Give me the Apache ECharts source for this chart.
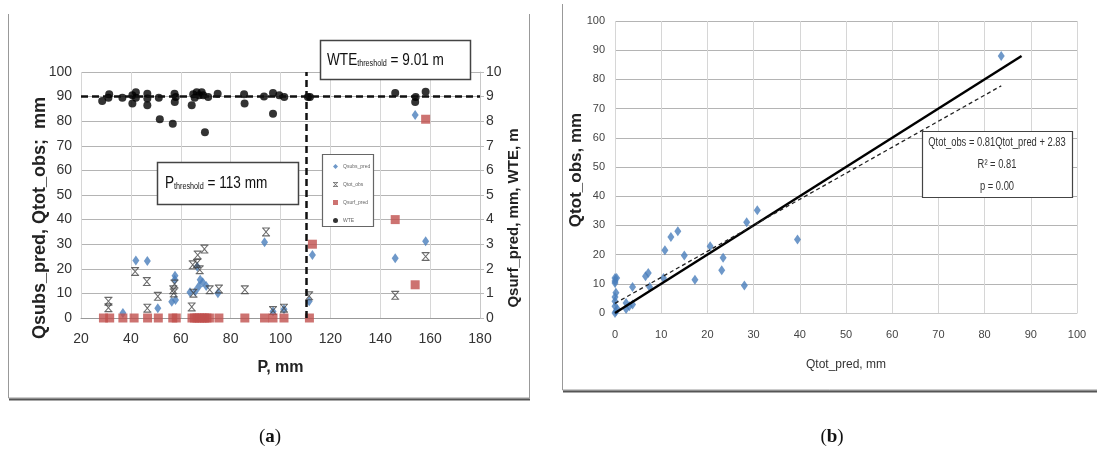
<!DOCTYPE html>
<html>
<head>
<meta charset="utf-8">
<script src="https://cdn.jsdelivr.net/npm/echarts@6/dist/echarts.min.js"></script>
<style>
  html, body { margin: 0; padding: 0; background: #fff; }
  #chart { width: 1097px; height: 452px; }
</style>
</head>
<body>
<div id="chart"></div>
<script>
// ---- panel (a): P, mm vs runoff components + WTE ----
const pTicks = [20, 180, 20]            // min, max, step
const leftTicks = [0, 100, 10]
const rightTicks = [0, 10, 1]

// [P, Qsubs_pred mm]
const qsubsPred = [
  [36.8, 2], [42, 23.4], [46.6, 23.2], [50.8, 4], [56.4, 6.6], [57.9, 7.3], [57.6, 15.5], [57.7, 17.2],
  [63.7, 10.5], [65.8, 10.8], [66.6, 20.8], [67.2, 12.8], [67.8, 15.5], [68.8, 14.5], [70.2, 13],
  [74.9, 10.1], [93.6, 30.8], [97, 2.6], [101.4, 3.6], [111.5, 6.8], [112.8, 25.6], [146, 24.3],
  [154, 82.5], [158.2, 31.2]
]
// [P, Qtot_obs mm]
const qtotObsA = [
  [31, 6.8], [31, 4.2], [41.7, 18.9], [46.4, 14.8], [46.6, 4], [50.8, 8.8], [57, 11.5], [57.5, 13.8],
  [57.2, 10.2], [64.4, 4.5], [64.8, 21.6], [65.1, 10.1], [66.5, 22.2], [66.8, 25.6], [67.6, 19.6],
  [69.5, 28], [71.6, 11.5], [75.3, 11.8], [85.7, 11.5], [94.2, 35], [97, 3], [101.4, 4], [111.5, 9],
  [146, 9.2], [158.2, 25]
]
// [P, Qsurf_pred] on the right axis
const qsurfPred = [
  [29, 0], [31.5, 0], [36.8, 0], [41.3, 0], [46.7, 0], [51, 0], [56.8, 0], [58.2, 0], [64.5, 0],
  [65.5, 0], [66.5, 0], [67.5, 0], [68.5, 0], [69.5, 0], [70.5, 0], [71.5, 0], [75.3, 0], [85.7, 0],
  [93.6, 0], [97, 0], [101.4, 0], [111.6, 0], [112.8, 3.0], [146, 4.0], [154, 1.35], [158.2, 8.08]
]
// [P, WTE m] on the right axis
const wte = [
  [28.5, 8.82], [31.3, 9.1], [31, 8.95], [36.6, 8.95], [40.6, 9.05], [40.6, 8.72], [42, 9.18], [42, 8.95],
  [46.6, 9.12], [46.6, 8.92], [46.6, 8.65], [51.2, 8.95], [51.6, 8.08], [56.8, 7.9], [57.5, 9.12],
  [58, 8.98], [57.6, 8.78], [64.4, 8.65], [65, 9.1], [65.6, 8.95], [66.4, 9.18], [67.4, 9.05],
  [68.4, 9.18], [69, 9.05], [69.7, 7.55], [71, 8.98], [74.8, 9.12], [85.4, 9.1], [85.6, 8.72],
  [93.4, 9.0], [97, 9.15], [97, 8.3], [99.5, 9.05], [101.5, 8.98], [111, 8.98], [111.8, 8.98],
  [146, 9.15], [154, 8.78], [154.2, 8.98], [158.2, 9.2]
]
const wteThreshold = 9.01
const pThresholdLine = 110.3

// ---- panel (b): Qtot_pred vs Qtot_obs ----
const bTicks = [0, 100, 10]
const qtotPoints = [
  [0, 12], [0.35, 12], [0, 11], [0, 10.3], [0.2, 6.9], [0, 5.5], [0, 4], [0, 2.3], [0.2, 0.6], [0, 0],
  [0.5, 1.4], [2.4, 3.4], [2.4, 1.4], [3.1, 2.3], [3.8, 2.9], [3.8, 8.9], [6.6, 12.6], [7.2, 13.7],
  [7.5, 8.9], [10.5, 12], [10.8, 21.5], [12.1, 26], [13.6, 28], [15, 19.7], [17.3, 11.4], [20.6, 22.9],
  [23.1, 14.6], [23.4, 18.9], [28, 9.4], [28.5, 31.1], [30.8, 35.2], [39.5, 25.2], [83.6, 88]
]
const oneToOne = [[0, 0], [88, 88]]
const fitLine = [[0, 3.3], [83.6, 77.8]]

const SANS = "'Liberation Sans', Arial, sans-serif"
const starMark = 'path://M0,0H10V1.3H0Z M0,8.7H10V10H0Z M0.6,1.3H2.2L5,4.1L7.8,1.3H9.4L5.8,5L9.4,8.7H7.8L5,5.9L2.2,8.7H0.6L4.2,5Z'

const gridH = { show: true, lineStyle: { color: '#b4b4b4', width: 1 } }
const gridV = { show: true, lineStyle: { color: '#d6d6d6', width: 1 } }
const labA = { fontFamily: SANS, fontSize: 14, color: '#333' }
const labB = { fontFamily: SANS, fontSize: 11, color: '#444' }

// boxed note text, squeezed horizontally like the original narrow font
function subText(x, y, main, sub, rest) {
  return {
    type: 'text', z: 101, x: x, y: y, scaleX: 0.8,
    style: {
      text: '{m|' + main + '}{s|' + sub + '}{m|' + rest + '}', verticalAlign: 'middle',
      rich: {
        m: { fontFamily: SANS, fontSize: 17, fill: '#111', verticalAlign: 'bottom' },
        s: { fontFamily: SANS, fontSize: 9, fill: '#111', verticalAlign: 'bottom' }
      }
    }
  }
}
function boxLine(y, text) {
  return {
    type: 'text', z: 101, x: 997, y: y, scaleX: 0.78,
    style: { text: text, font: '12px ' + SANS, fill: '#333', align: 'center', verticalAlign: 'middle' }
  }
}
function caption(x, letter) {
  return {
    type: 'text', x: x, y: 437,
    style: {
      text: '({b|' + letter + '})', align: 'center', verticalAlign: 'middle',
      fontFamily: "'Liberation Serif', serif", fontSize: 19, fill: '#111',
      rich: { b: { fontFamily: "'Liberation Serif', serif", fontSize: 19, fontWeight: 'bold', fill: '#111' } }
    }
  }
}

const chart = echarts.init(document.getElementById('chart'))

chart.setOption({
  animation: false,
  grid: [
    { left: 81, top: 72, width: 399, height: 246 },
    { left: 615, top: 21, width: 462, height: 292 }
  ],
  legend: {
    data: ['Qsubs_pred', 'Qtot_obs', 'Qsurf_pred', 'WTE'],
    orient: 'vertical',
    left: 328,
    top: 159,
    itemGap: 13,
    itemWidth: 5,
    itemHeight: 5,
    selectedMode: false,
    z: 110,
    textStyle: { fontSize: 5, color: '#666', fontFamily: SANS }
  },
  xAxis: [
    {
      type: 'value', gridIndex: 0, min: pTicks[0], max: pTicks[1], interval: pTicks[2],
      axisLine: { lineStyle: { color: '#999' } },
      axisTick: { show: false },
      axisLabel: { ...labA, margin: 14 },
      splitLine: gridV,
      name: 'P, mm', nameLocation: 'middle', nameGap: 42,
      nameTextStyle: { fontFamily: SANS, fontSize: 16, fontWeight: 'bold', color: '#222' }
    },
    {
      type: 'value', gridIndex: 1, min: bTicks[0], max: bTicks[1], interval: bTicks[2],
      axisLine: { lineStyle: { color: '#c8c8c8' } },
      axisTick: { show: false },
      axisLabel: { ...labB, margin: 16 },
      splitLine: gridV,
      name: 'Qtot_pred, mm', nameLocation: 'middle', nameGap: 46,
      nameTextStyle: { fontFamily: SANS, fontSize: 12, color: '#333' }
    }
  ],
  yAxis: [
    {
      type: 'value', gridIndex: 0, min: leftTicks[0], max: leftTicks[1], interval: leftTicks[2],
      axisLine: { show: false },
      axisTick: { show: false },
      axisLabel: { ...labA, margin: 9 },
      splitLine: gridH
    },
    {
      type: 'value', gridIndex: 0, position: 'right', min: rightTicks[0], max: rightTicks[1], interval: rightTicks[2],
      axisLine: { show: true, lineStyle: { color: '#c8c8c8' } },
      axisTick: { show: true, length: 4, lineStyle: { color: '#bbb' } },
      axisLabel: { ...labA, margin: 6 },
      splitLine: { show: false }
    },
    {
      type: 'value', gridIndex: 1, min: bTicks[0], max: bTicks[1], interval: bTicks[2],
      axisLine: { show: false },
      axisTick: { show: false },
      axisLabel: { ...labB, margin: 10 },
      splitLine: gridH
    }
  ],
  series: [
    {
      name: 'Qsubs_pred', type: 'scatter', xAxisIndex: 0, yAxisIndex: 0,
      symbol: 'diamond', symbolSize: [7, 10],
      itemStyle: { color: '#4a7ebb' },
      data: qsubsPred
    },
    {
      name: 'Qtot_obs', type: 'scatter', xAxisIndex: 0, yAxisIndex: 0,
      symbol: starMark, symbolSize: [8, 9],
      itemStyle: { color: '#444' },
      data: qtotObsA
    },
    {
      name: 'Qsurf_pred', type: 'scatter', xAxisIndex: 0, yAxisIndex: 1,
      symbol: 'rect', symbolSize: 9,
      itemStyle: { color: '#c0504d' },
      data: qsurfPred
    },
    {
      name: 'WTE', type: 'scatter', xAxisIndex: 0, yAxisIndex: 1,
      symbol: 'circle', symbolSize: 8,
      itemStyle: { color: '#000' },
      data: wte,
      markLine: {
        silent: true,
        symbol: 'none',
        label: { show: false },
        lineStyle: { color: '#111', width: 2.5, type: [7, 4] },
        data: [{ yAxis: wteThreshold }, { xAxis: pThresholdLine }]
      }
    },
    {
      name: 'Qtot', type: 'scatter', xAxisIndex: 1, yAxisIndex: 2,
      symbol: 'diamond', symbolSize: [7, 10],
      itemStyle: { color: '#4a7ebb' },
      data: qtotPoints
    },
    {
      name: '1:1', type: 'line', xAxisIndex: 1, yAxisIndex: 2,
      symbol: 'none', z: 5,
      lineStyle: { color: '#000', width: 2.5 },
      data: oneToOne
    },
    {
      name: 'fit', type: 'line', xAxisIndex: 1, yAxisIndex: 2,
      symbol: 'none', z: 5,
      lineStyle: { color: '#222', width: 1.3, type: [4, 3] },
      data: fitLine
    }
  ],
  graphic: [
    // panel frames
    { type: 'polyline', z: 1, shape: { points: [[8.5, 14], [8.5, 398], [529.5, 398], [529.5, 14]] }, style: { fill: null, stroke: '#999', lineWidth: 1 } },
    { type: 'line', z: 1, shape: { x1: 9, y1: 399.5, x2: 530, y2: 399.5 }, style: { stroke: '#555', lineWidth: 2 } },
    { type: 'polyline', z: 1, shape: { points: [[562.5, 4], [562.5, 390], [1097, 390]] }, style: { fill: null, stroke: '#999', lineWidth: 1 } },
    { type: 'line', z: 1, shape: { x1: 563, y1: 391.5, x2: 1097, y2: 391.5 }, style: { stroke: '#555', lineWidth: 2 } },
    // axis titles
    {
      type: 'text', x: 40, y: 218, rotation: Math.PI / 2,
      style: { text: 'Qsubs_pred, Qtot_obs;  mm', font: 'bold 18px ' + SANS, fill: '#222', align: 'center', verticalAlign: 'middle' }
    },
    {
      type: 'text', x: 514, y: 218, rotation: Math.PI / 2,
      style: { text: 'Qsurf_pred, mm, WTE, m', font: 'bold 15px ' + SANS, fill: '#222', align: 'center', verticalAlign: 'middle' }
    },
    {
      type: 'text', x: 576, y: 170, rotation: Math.PI / 2,
      style: { text: 'Qtot_obs, mm', font: 'bold 17px ' + SANS, fill: '#222', align: 'center', verticalAlign: 'middle' }
    },
    // threshold boxes
    { type: 'rect', z: 100, shape: { x: 320.5, y: 40.5, width: 150, height: 39 }, style: { fill: '#fff', stroke: '#444', lineWidth: 1.5 } },
    subText(327, 60, 'WTE', 'threshold', ' = 9.01 m'),
    { type: 'rect', z: 100, shape: { x: 157.5, y: 162.5, width: 141, height: 42 }, style: { fill: '#fff', stroke: '#444', lineWidth: 1.5 } },
    subText(165, 183, 'P', 'threshold', ' = 113 mm'),
    // legend frame
    { type: 'rect', z: 100, shape: { x: 322.5, y: 154.5, width: 51, height: 72 }, style: { fill: '#fff', stroke: '#666', lineWidth: 1.2 } },
    // regression box of panel (b)
    { type: 'rect', z: 100, shape: { x: 922.5, y: 131.5, width: 150, height: 66 }, style: { fill: '#fff', stroke: '#444', lineWidth: 1.2 } },
    boxLine(143, 'Qtot_obs = 0.81Qtot_pred + 2.83'),
    boxLine(165, 'R\u00b2 = 0.81'),
    boxLine(187, 'p = 0.00'),
    // panel captions
    caption(270, 'a'),
    caption(832, 'b')
  ]
})
</script>
</body>
</html>
